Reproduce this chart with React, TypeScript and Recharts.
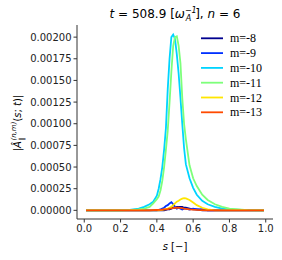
import React from "react";
import { LineChart, Line, XAxis, YAxis } from "recharts";

const sValues = [0.01, 0.1, 0.2, 0.25, 0.3, 0.33, 0.36, 0.38, 0.4, 0.41, 0.42, 0.43, 0.44, 0.45, 0.46, 0.47, 0.48, 0.49, 0.5, 0.51, 0.52, 0.53, 0.54, 0.55, 0.56, 0.58, 0.6, 0.62, 0.65, 0.68, 0.72, 0.76, 0.8, 0.9, 0.99];

const m8 = [0,0,0,0,0,0,0,0,0,0,0,0,0, 0.000005,0.00001,0.00001,0.00002,0.00003,0.00003,0.00004,0.00004,0.00004,0.00004,0.00003,0.00003,0.00002,0.00001,0.00001, 0,0,0,0,0,0,0];
const m9 = [0,0,0,0,0,0,0,0,0, 0.000005,0.00001,0.00002,0.00003,0.00005,0.00006,0.00008,0.000095,0.00007,0.00004,0.00002,0.00003,0.00002,0.00001,0.00002,0.00002,0.00001,0.00002,0.00001,0.000015, 0,0,0,0,0,0];
const m10 = [0,0,0.000001,0.000005,0.00002,0.00004,0.00007,0.0001,0.00017,0.00025,0.00036,0.0005,0.0007,0.00095,0.0014,0.00175,0.002,0.00203,0.00198,0.0018,0.00158,0.0013,0.001,0.00072,0.00053,0.00037,0.00026,0.00018,0.00011,0.00007,0.00004,0.00002,0.00001,0.000002,0];
const m11 = [0,0,0,0.000003,0.00001,0.00002,0.00004,0.00008,0.00013,0.00016,0.00023,0.00034,0.0005,0.0007,0.00092,0.00125,0.0016,0.0019,0.002,0.00201,0.0019,0.0017,0.0013,0.001,0.00082,0.00052,0.00037,0.00028,0.00018,0.00012,0.00007,0.00004,0.00002,0.000003,0];
const m12 = [0,0,0,0,0,0,0,0,0,0, 0.000003,0.000006,0.00001,0.000015,0.00002,0.00003,0.00004,0.00006,0.00008,0.0001,0.00011,0.000125,0.000135,0.00014,0.000138,0.00012,0.00009,0.00006,0.00003,0.00001, 0,0,0,0,0];
const m13 = [0,0,0,0,0,0,0, 0.000002,0.000004,0.000005,0.000006,0.000008,0.00001,0.000012,0.000015,0.00002,0.000022,0.000025,0.00003,0.00003,0.00003,0.000028,0.000025,0.00002,0.000018,0.000012,0.000008,0.000005,0.000003, 0,0,0,0,0,0];

const seriesNames = ["m=-8", "m=-9", "m=-10", "m=-11", "m=-12", "m=-13"];
const seriesValues = [m8, m9, m10, m11, m12, m13];
const seriesColors = ["#00008f", "#0030ff", "#00d4ff", "#7dff7a", "#ffe600", "#ff4a00"];

const xTicks = [0, 0.2, 0.4, 0.6, 0.8, 1.0];
const yTicks = [0, 0.00025, 0.0005, 0.00075, 0.001, 0.00125, 0.0015, 0.00175, 0.002];

const data = sValues.map((s, i) => {
  const row: Record<string, number> = { s };
  seriesNames.forEach((n, k) => {
    row[n] = seriesValues[k][i];
  });
  return row;
});

const tickFont = { fontFamily: "DejaVu Sans", fontSize: 10, fill: "#222" };

export default function App() {
  return (
    <div style={{ position: "absolute", left: 0, top: 0, width: 282, height: 260 }}>
      <LineChart
        width={282}
        height={260}
        data={data}
        margin={{ top: 25, right: 9, left: 0, bottom: 0 }}
      >
        <XAxis
          dataKey="s"
          type="number"
          domain={[-0.04, 1.04]}
          ticks={xTicks}
          tickFormatter={(v: number) => v.toFixed(1)}
          tick={tickFont}
          tickSize={3.5}
          tickMargin={2}
          height={41}
          stroke="#333"
          allowDataOverflow
        />
        <XAxis
          xAxisId="top"
          orientation="top"
          dataKey="s"
          type="number"
          domain={[-0.04, 1.04]}
          tick={false}
          tickLine={false}
          height={0}
          stroke="#333"
        />
        <YAxis
          type="number"
          domain={[-0.0001, 0.00214]}
          ticks={yTicks}
          tickFormatter={(v: number) => v.toFixed(5)}
          tick={tickFont}
          tickSize={3.5}
          tickMargin={2}
          width={77}
          stroke="#333"
          allowDataOverflow
        />
        <YAxis
          yAxisId="right"
          orientation="right"
          type="number"
          domain={[-0.0001, 0.00214]}
          tick={false}
          tickLine={false}
          width={0}
          stroke="#333"
        />
        {seriesNames.map((n, k) => (
          <Line
            key={n}
            dataKey={n}
            type="linear"
            stroke={seriesColors[k]}
            strokeWidth={1.8}
            dot={false}
            isAnimationActive={false}
          />
        ))}
      </LineChart>
      <svg
        width={282}
        height={260}
        style={{ position: "absolute", left: 0, top: 0, pointerEvents: "none" }}
      >
        <text x={175} y={18} textAnchor="middle" fontFamily="DejaVu Sans" fontSize={12} fill="#000">
          <tspan fontStyle="italic">t</tspan>
          <tspan> = 508.9 [</tspan>
          <tspan fontStyle="italic">ω</tspan>
          <tspan fontStyle="italic" fontSize={8} dy={-5}>−1</tspan>
          <tspan fontStyle="italic" fontSize={8} dx={-11} dy={8}>A</tspan>
          <tspan dx={4} dy={-3}>],  </tspan>
          <tspan fontStyle="italic">n</tspan>
          <tspan> = 6</tspan>
        </text>
        <text
          transform="translate(21,123) rotate(-90)"
          textAnchor="middle"
          fontFamily="DejaVu Sans"
          fontSize={10}
          fill="#000"
        >
          <tspan>|</tspan>
          <tspan fontStyle="italic">Â</tspan>
          <tspan fontSize={7} dy={3}>∥</tspan>
          <tspan fontSize={7} fontStyle="italic" dx={-3} dy={-8}>(n,m)</tspan>
          <tspan dy={5}>(</tspan>
          <tspan fontStyle="italic">s</tspan>
          <tspan>; </tspan>
          <tspan fontStyle="italic">t</tspan>
          <tspan>)|</tspan>
        </text>
        <text x={175} y={250} textAnchor="middle" fontFamily="DejaVu Sans" fontSize={10} fill="#000">
          <tspan fontStyle="italic">s</tspan>
          <tspan> [−]</tspan>
        </text>
        {seriesNames.map((n, k) => (
          <g key={n}>
            <line
              x1={201}
              x2={223}
              y1={38.3 + k * 14.8}
              y2={38.3 + k * 14.8}
              stroke={seriesColors[k]}
              strokeWidth={1.8}
            />
            <text
              x={230}
              y={38.3 + k * 14.8 + 4}
              fontFamily="Liberation Serif"
              fontSize={12}
              fill="#000"
            >
              {n}
            </text>
          </g>
        ))}
      </svg>
    </div>
  );
}
